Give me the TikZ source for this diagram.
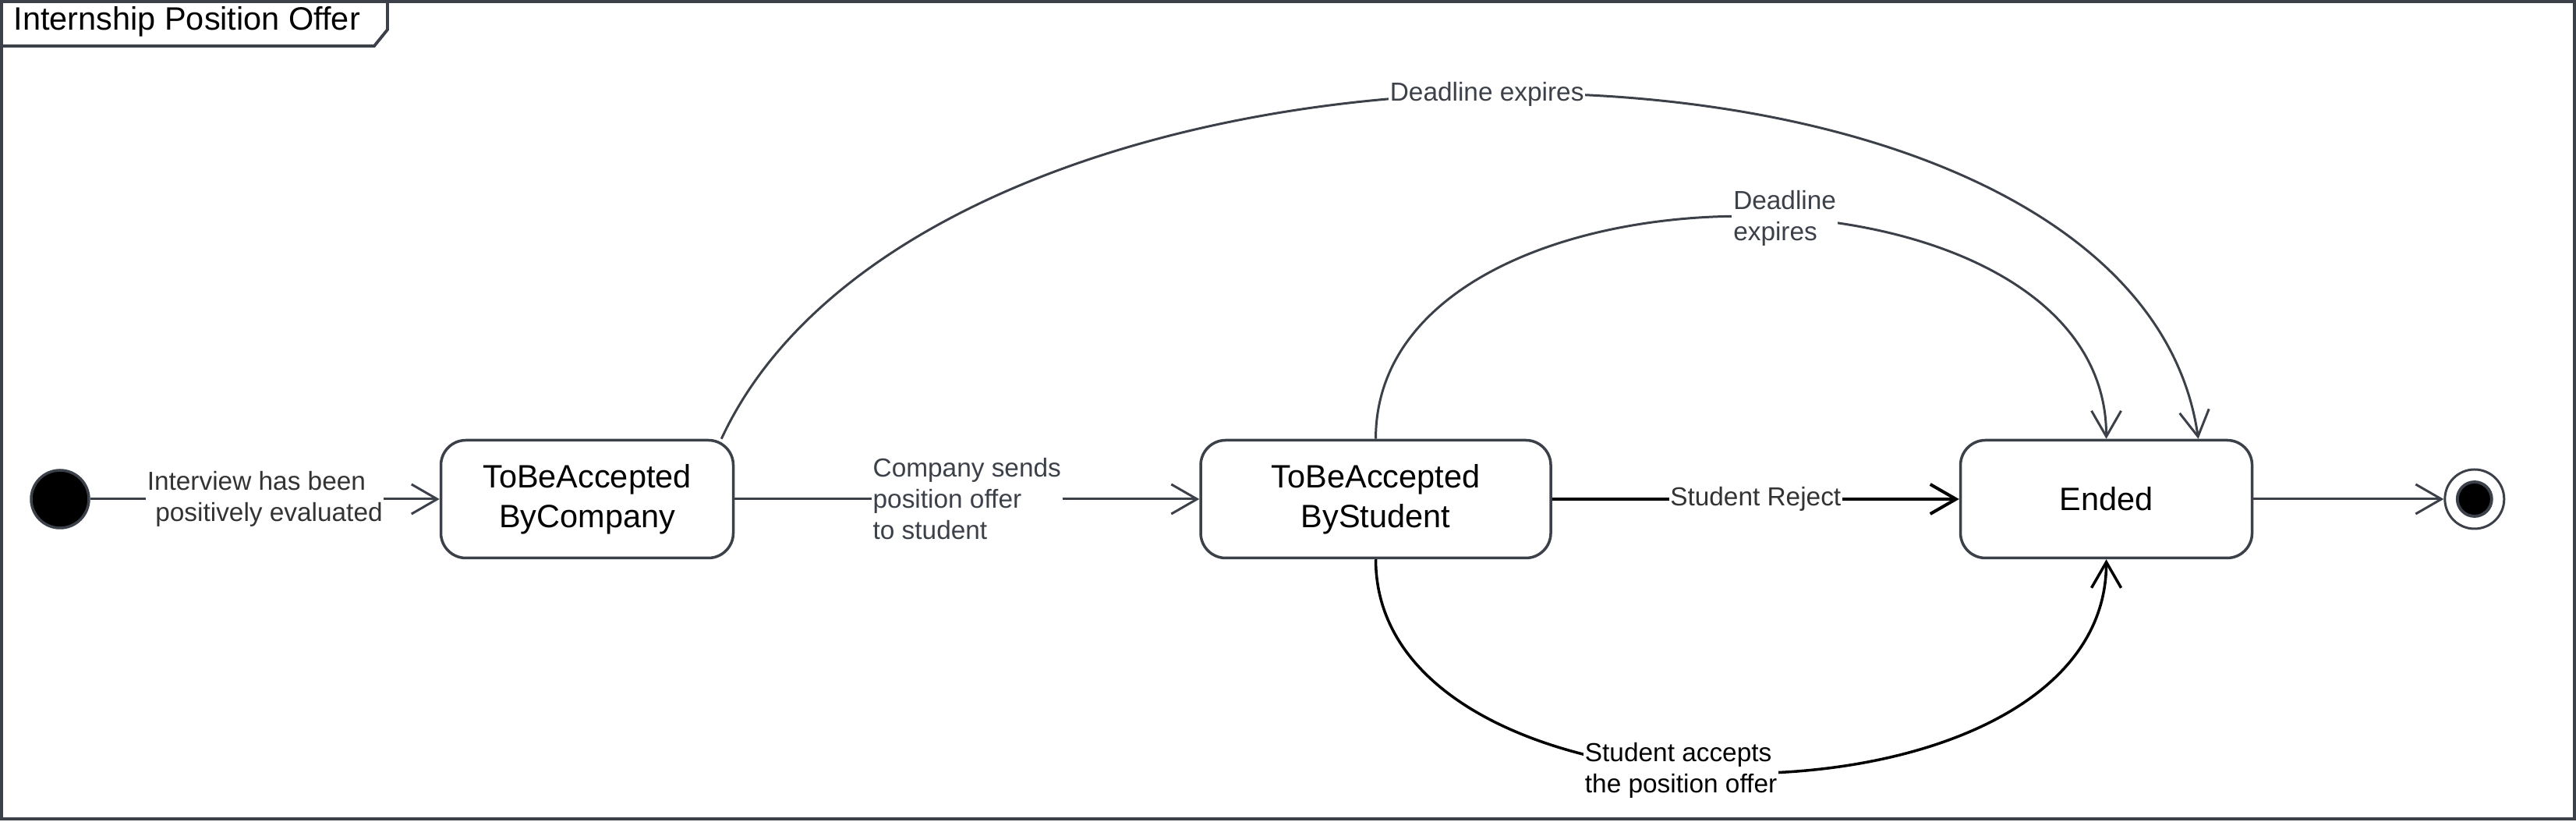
\documentclass[tikz,border=0pt]{standalone}
\usepackage{fontspec}
\setmainfont{Liberation Sans}
\usetikzlibrary{calc}
\usetikzlibrary{positioning,arrows.meta}

\definecolor{linec}{HTML}{3B4049}
\definecolor{textg}{HTML}{333333}

\begin{document}
\begin{tikzpicture}[
    statebox/.style={
        draw=linec,
        line width=1pt,
        rounded corners=0.32cm,
        minimum height=1.51cm,
        align=center,
        font=\fontsize{11.8}{14.4}\selectfont
    },
    guard/.style={fill=white, inner sep=0.5pt, align=left, font=\fontsize{9.5}{11.4}\selectfont},
    arrow/.style={-{Straight Barb[length=0.33cm, width=0.38cm]}, line width=0.85pt, linec},
    strongarrow/.style={-{Straight Barb[length=0.33cm, width=0.38cm]}, line width=1.15pt, black}
]

\useasboundingbox (0,0) rectangle (33.04,10.54);

% Frame with title tab
\draw[linec, line width=1.1pt] (0.02,0.04) rectangle (33.02,10.52);
\draw[linec, line width=1.1pt] (0.02,9.95) -- (4.80,9.95) -- (4.97,10.16) -- (4.97,10.52);
\node[anchor=west, inner sep=0pt, font=\fontsize{11.8}{14}\selectfont] (title) at (0.17,10.26) {Internship Position Offer};

% States
\node[circle, draw=linec, line width=1pt, fill=black, minimum size=0.74cm] (init) at (0.77,4.14) {};
\node[statebox, minimum width=3.75cm, right=4.48cm of init] (company) {ToBeAccepted\\ByCompany};
\node[statebox, minimum width=4.49cm, right=5.96cm of company] (student) {ToBeAccepted\\ByStudent};
\node[statebox, minimum width=3.74cm, right=5.22cm of student] (ended) {Ended};
\node[circle, draw=linec, line width=0.85pt, fill=white, minimum size=0.76cm, right=2.44cm of ended] (final) {};
\node[circle, draw=linec, line width=1.1pt, fill=black, minimum size=0.44cm] (finaldot) at (final) {};

% Transitions
\draw[arrow] (init) -- node[guard, text=textg] {Interview has been\\\hspace*{3pt}positively evaluated} (company);
\draw[arrow] (company) -- node[guard] {Company sends\\position offer\\to student} (student);
\draw[strongarrow] (student) -- node[guard, text=textg] {Student Reject} (ended);
\draw[arrow] (ended) -- (final);

% Deadlines
\draw[arrow] ($(company.north east)+(-0.17,0)$) .. controls +(2.74,5.9) and +(-0.85,5.9) .. ($(ended.north)+(1.18,0)$)
    node[guard, pos=0.486] {Deadline expires};
\draw[arrow] (student.north) .. controls +(0,3.8) and +(0,3.8) .. (ended.north)
    node[guard, pos=0.54] {Deadline\\expires};

% Acceptance
\draw[arrow, black, line width=1pt] (student.south) .. controls +(0,-3.65) and +(0,-3.65) .. (ended.south)
    node[guard, pos=0.445] {Student accepts\\the position offer};

\end{tikzpicture}
\end{document}
